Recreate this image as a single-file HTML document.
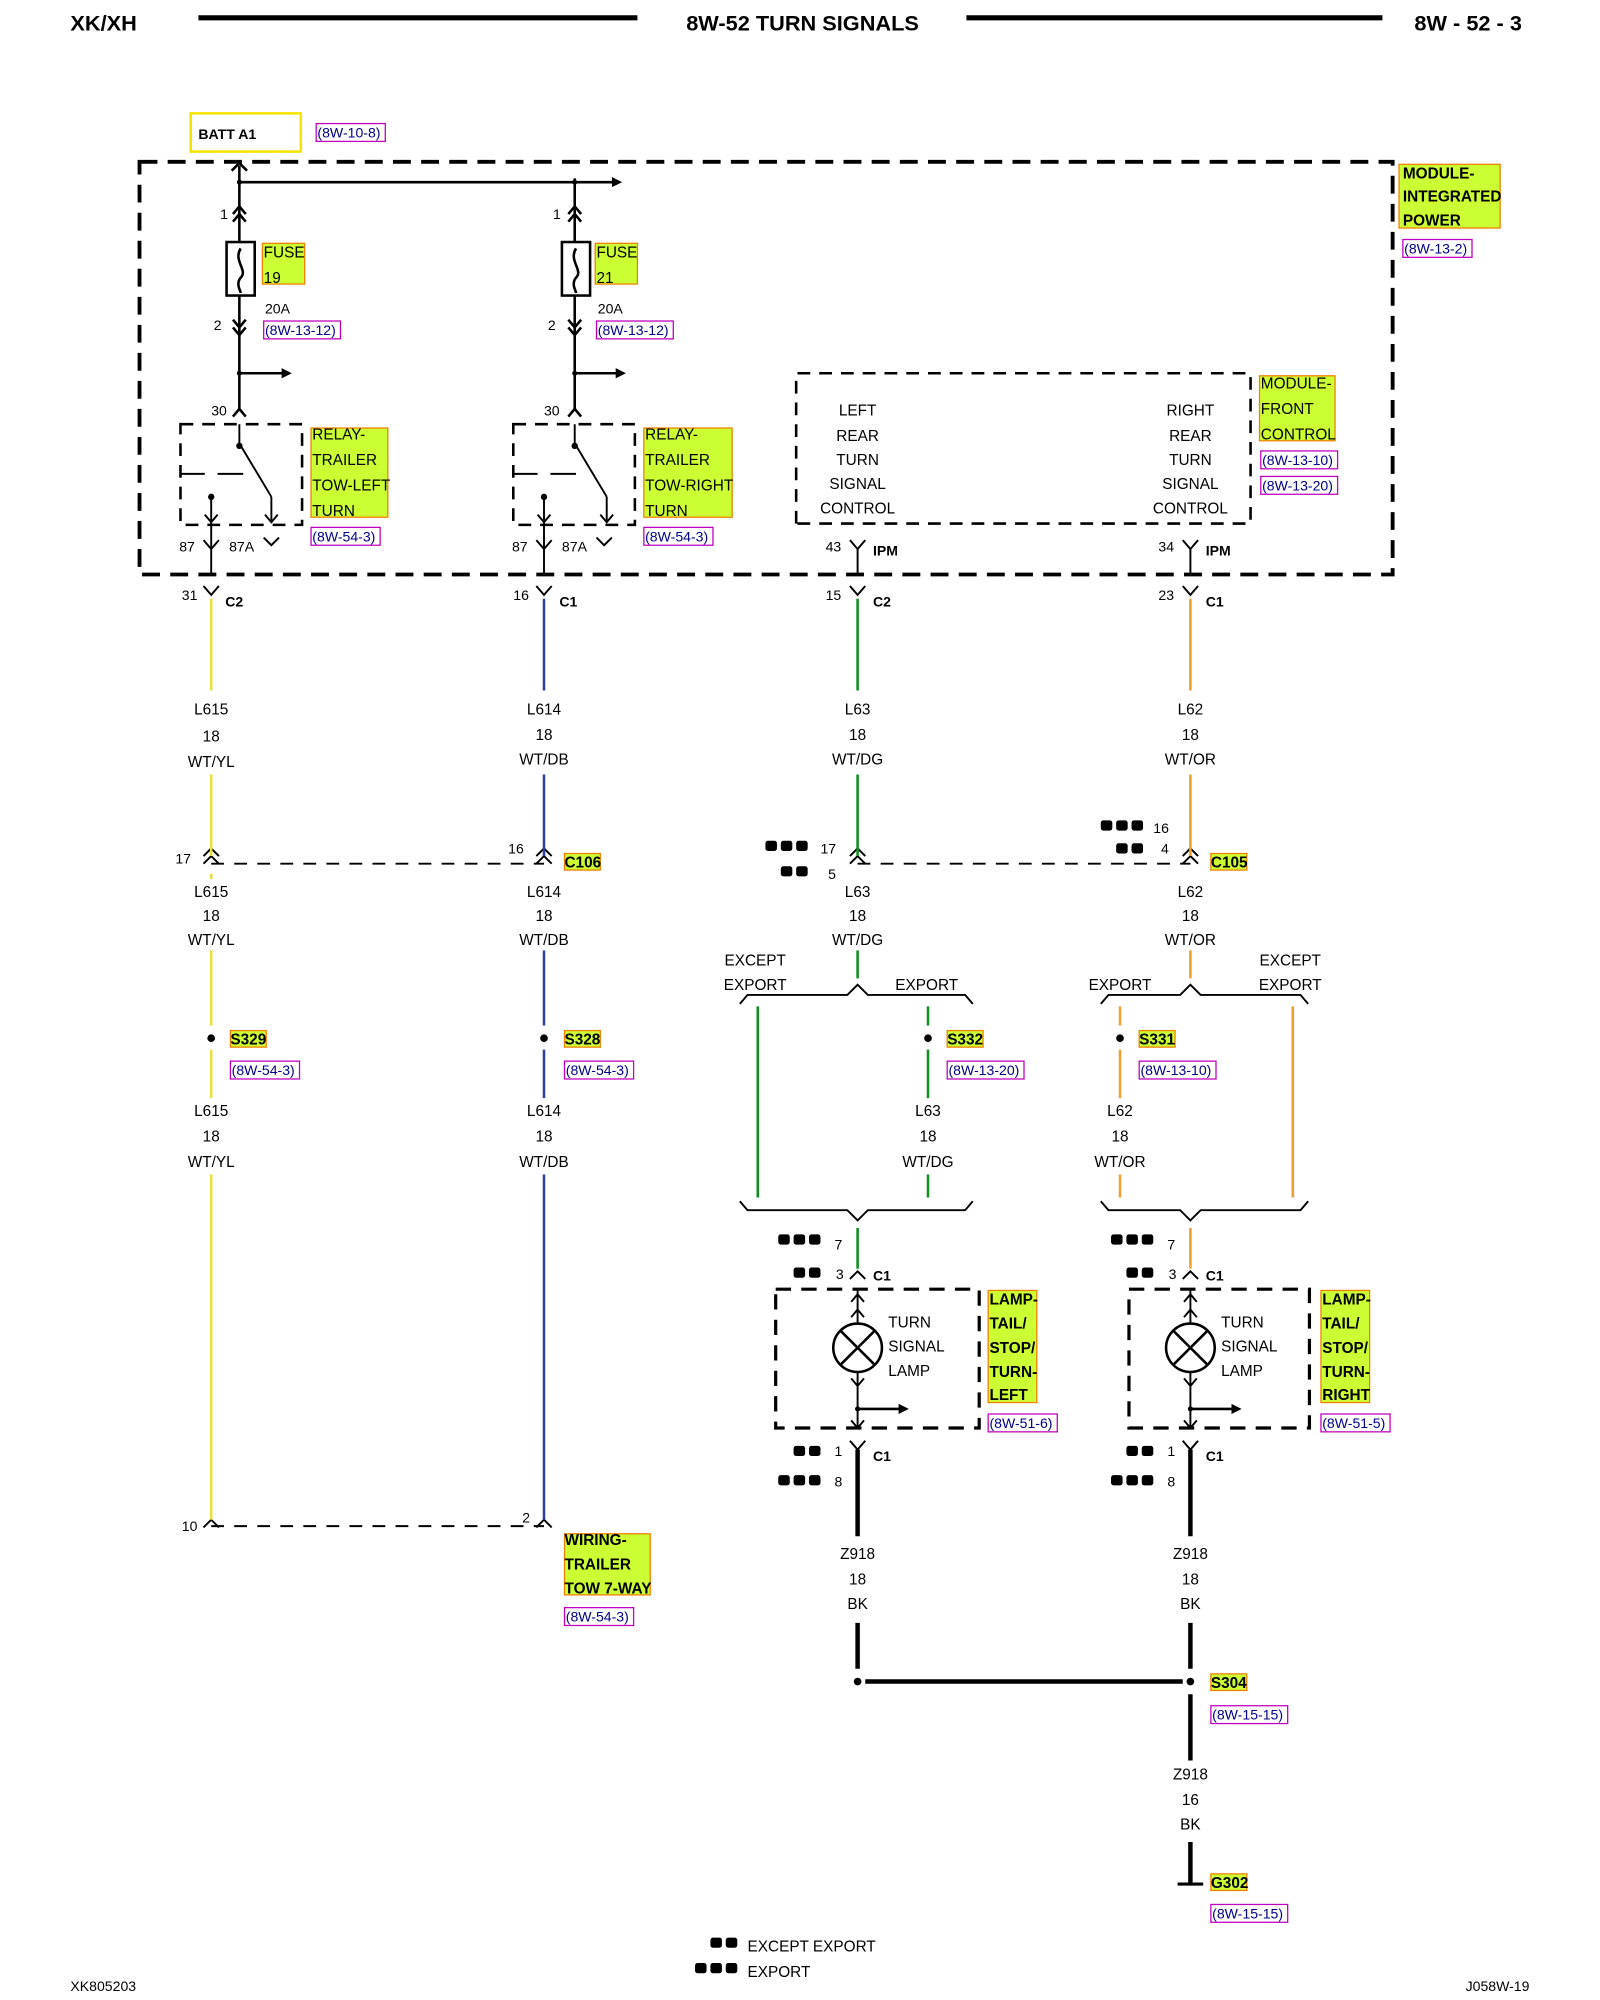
<!DOCTYPE html>
<html><head><meta charset="utf-8"><style>
html,body{margin:0;padding:0;background:#fff;width:1600px;height:2000px;overflow:hidden}
svg{display:block}
text{font-family:"Liberation Sans",sans-serif;font-size:12px;fill:#000}
.b{font-weight:bold}
.r{fill:#00008b;font-size:11px}
.c{text-anchor:middle}
</style></head><body>
<svg width="1600" height="2000" viewBox="0 0 1250 1570" preserveAspectRatio="none" xmlns="http://www.w3.org/2000/svg">
<defs>
<marker id="ah" markerWidth="8" markerHeight="8" refX="6" refY="4" orient="auto" markerUnits="userSpaceOnUse"><path d="M0,0 L8,4 L0,8z" fill="#000"/></marker>
</defs>
<!-- header -->
<text x="55" y="24" class="b" style="font-size:17px">XK/XH</text>
<line x1="155" y1="14" x2="498" y2="14" stroke="#000" stroke-width="4"/>
<text x="627" y="24" class="b c" style="font-size:17px">8W-52 TURN SIGNALS</text>
<line x1="755" y1="14" x2="1080" y2="14" stroke="#000" stroke-width="4"/>
<text x="1105" y="24" class="b" style="font-size:17px">8W - 52 - 3</text>

<!-- BATT -->
<rect x="149" y="89" width="86" height="30" fill="#fff" stroke="#f5e400" stroke-width="2"/>
<text x="155" y="109" class="b" style="font-size:11px">BATT A1</text>
<rect x="247" y="97" width="54" height="14" fill="none" stroke="#c000c0" stroke-width="1"/>
<text x="248" y="108" class="r">(8W-10-8)</text>

<g fill="none" stroke="#000" stroke-width="3" stroke-dasharray="14,8">
<rect x="109" y="127" width="979" height="324"/>
<path d="M622,411 V293 H977 V411 Z" stroke-width="2" stroke-dasharray="10,7"/>
<rect x="141" y="333" width="95" height="79" stroke-width="2" stroke-dasharray="10,7"/>
<rect x="401" y="333" width="95" height="79" stroke-width="2" stroke-dasharray="10,7"/>
<rect x="606" y="1012" width="159" height="109" stroke-width="2.5" stroke-dasharray="12,8"/>
<rect x="882" y="1012" width="141" height="109" stroke-width="2.5" stroke-dasharray="12,8"/>
<path d="M165,678 H425 M670,678 H930 M165,1198 H425" stroke-width="1.5" stroke-dasharray="10,8"/>
</g>

<!-- labels green -->
<g fill="#ccff33" stroke="#f08000" stroke-width="1">
<rect x="1093" y="129" width="79" height="50"/>
<rect x="205" y="191" width="33" height="32"/>
<rect x="465" y="191" width="33" height="32"/>
<rect x="243" y="336" width="60" height="70"/>
<rect x="503" y="336" width="69" height="70"/>
<rect x="984" y="295" width="59" height="51"/>
<rect x="441" y="670" width="28" height="13"/>
<rect x="946" y="670" width="28" height="13"/>
<rect x="180" y="809" width="28" height="13"/>
<rect x="441" y="809" width="28" height="13"/>
<rect x="740" y="809" width="28" height="13"/>
<rect x="890" y="809" width="28" height="13"/>
<rect x="772" y="1013" width="38" height="88"/>
<rect x="1032" y="1013" width="38" height="88"/>
<rect x="441" y="1204" width="67" height="48"/>
<rect x="946" y="1314" width="28" height="13"/>
<rect x="946" y="1471" width="28" height="13"/>
</g>
<g style="font-size:11px">
<text x="1096" y="140" class="b">MODULE-</text><text x="1096" y="158" class="b">INTEGRATED</text><text x="1096" y="177" class="b">POWER</text>
<text x="206" y="202" fill="#666">FUSE</text><text x="206" y="222">19</text>
<text x="466" y="202">FUSE</text><text x="466" y="222">21</text>
<text x="244" y="345">RELAY-</text><text x="244" y="365">TRAILER</text><text x="244" y="385">TOW-LEFT</text><text x="244" y="405">TURN</text>
<text x="504" y="345">RELAY-</text><text x="504" y="365">TRAILER</text><text x="504" y="385">TOW-RIGHT</text><text x="504" y="405">TURN</text>
<text x="985" y="305">MODULE-</text><text x="985" y="325">FRONT</text><text x="985" y="345">CONTROL</text>
<text x="441" y="681" class="b">C106</text><text x="946" y="681" class="b">C105</text>
<text x="180" y="820" class="b">S329</text><text x="441" y="820" class="b">S328</text><text x="740" y="820" class="b">S332</text><text x="890" y="820" class="b">S331</text>
<text x="773" y="1024" class="b">LAMP-</text><text x="773" y="1043" class="b">TAIL/</text><text x="773" y="1062" class="b">STOP/</text><text x="773" y="1081" class="b">TURN-</text><text x="773" y="1099" class="b">LEFT</text>
<text x="1033" y="1024" class="b">LAMP-</text><text x="1033" y="1043" class="b">TAIL/</text><text x="1033" y="1062" class="b">STOP/</text><text x="1033" y="1081" class="b">TURN-</text><text x="1033" y="1099" class="b">RIGHT</text>
<text x="441" y="1213" class="b">WIRING-</text><text x="441" y="1232" class="b">TRAILER</text><text x="441" y="1251" class="b">TOW 7-WAY</text>
<text x="946" y="1325" class="b">S304</text><text x="946" y="1482" class="b">G302</text>
</g>
<!-- refs -->
<g fill="none" stroke="#c000c0" stroke-width="1">
<rect x="1096" y="188" width="54" height="14"/><rect x="206" y="252" width="60" height="14"/><rect x="466" y="252" width="60" height="14"/>
<rect x="243" y="414" width="54" height="14"/><rect x="503" y="414" width="54" height="14"/>
<rect x="985" y="354" width="60" height="14"/><rect x="985" y="374" width="60" height="14"/>
<rect x="180" y="833" width="54" height="14"/><rect x="441" y="833" width="54" height="14"/>
<rect x="740" y="833" width="60" height="14"/><rect x="890" y="833" width="60" height="14"/>
<rect x="772" y="1110" width="54" height="14"/><rect x="1032" y="1110" width="54" height="14"/>
<rect x="441" y="1262" width="54" height="14"/><rect x="946" y="1339" width="60" height="14"/><rect x="946" y="1495" width="60" height="14"/>
</g>
<g class="r">
<text x="1097" y="199" class="r">(8W-13-2)</text><text x="207" y="263" class="r">(8W-13-12)</text><text x="467" y="263" class="r">(8W-13-12)</text>
<text x="244" y="425" class="r">(8W-54-3)</text><text x="504" y="425" class="r">(8W-54-3)</text>
<text x="986" y="365" class="r">(8W-13-10)</text><text x="986" y="385" class="r">(8W-13-20)</text>
<text x="181" y="844" class="r">(8W-54-3)</text><text x="442" y="844" class="r">(8W-54-3)</text>
<text x="741" y="844" class="r">(8W-13-20)</text><text x="891" y="844" class="r">(8W-13-10)</text>
<text x="773" y="1121" class="r">(8W-51-6)</text><text x="1033" y="1121" class="r">(8W-51-5)</text>
<text x="442" y="1273" class="r">(8W-54-3)</text><text x="947" y="1350" class="r">(8W-15-15)</text><text x="947" y="1506" class="r">(8W-15-15)</text>
</g>

<!-- top power wiring -->
<g stroke="#000" stroke-width="2" fill="none">
<path d="M187,130 V190 M187,232 V322"/>
<path d="M449,140 V190 M449,232 V322"/>
<path d="M187,143 H484" marker-end="url(#ah)"/>
<path d="M187,293 H226" marker-end="url(#ah)"/>
<path d="M449,293 H487" marker-end="url(#ah)"/>
<rect x="177" y="190" width="22" height="42"/><rect x="439" y="190" width="22" height="42"/>
<path d="M188,195 C182,205 194,212 188,218 C184,223 188,228 188,230"/>
<path d="M450,195 C444,205 456,212 450,218 C446,223 450,228 450,230"/>
<!-- chevrons -->
<path d="M181,134 L187,128 L193,134"/>
<path d="M182,168 L187,162 L192,168 M182,174 L187,168 L192,174"/>
<path d="M444,168 L449,162 L454,168 M444,174 L449,168 L454,174"/>
<path d="M182,251 L187,257 L192,251 M182,257 L187,263 L192,257"/>
<path d="M444,251 L449,257 L454,251 M444,257 L449,263 L454,257"/>
<path d="M182,327 L187,321 L192,327 M444,327 L449,321 L454,327"/>
<!-- relays -->
<path d="M187,333 V348 L212,390 M141,372 H160 M170,372 H190 M165,390 V451 M212,390 V410 M449,333 V348 L474,390 M401,372 H420 M430,372 H450 M425,390 V451 M474,390 V410" stroke-width="1.5"/>
<path d="M160,404 L165,410 L170,404 M207,404 L212,410 L217,404 M420,404 L425,410 L430,404 M469,404 L474,410 L479,404 M206,422 L212,428 L218,422 M466,422 L472,428 L478,422" stroke-width="1.5"/>
<path d="M159,424 L165,431 L171,424 M419,424 L425,431 L431,424 M664,424 L670,431 L676,424 M924,424 L930,431 L936,424" stroke-width="1.5"/>
<path d="M670,431 V451 M930,431 V451" stroke-width="1.5"/>
<!-- C2/C1 connectors -->
<path d="M159,460 L165,467 L171,460 M419,460 L425,467 L431,460 M664,460 L670,467 L676,460 M924,460 L930,467 L936,460" stroke-width="1.5"/>
<!-- C106/C105 -->
<path d="M159,672 L165,666 L171,672 M159,678 L165,672 L171,678 M419,672 L425,666 L431,672 M419,678 L425,672 L431,678 M664,672 L670,666 L676,672 M664,678 L670,672 L676,678 M924,672 L930,666 L936,672 M924,678 L930,672 L936,678" stroke-width="1.5"/>
<path d="M159,1199 L165,1193 L171,1199 M419,1199 L425,1193 L431,1199" stroke-width="1.5"/>
<!-- braces -->
<path d="M578,788 L584,781 H662 L670,773 L678,781 H754 L760,788 M860,788 L866,781 H922 L930,773 L938,781 H1016 L1022,788" stroke-width="1.5"/>
<path d="M578,943 L584,950 H662 L670,958 L678,950 H754 L760,943 M860,943 L866,950 H922 L930,958 L938,950 H1016 L1022,943" stroke-width="1.5"/>
<path d="M664,1004 L670,998 L676,1004 M924,1004 L930,998 L936,1004" stroke-width="1.5"/>
<!-- lamps -->
<path d="M670,1012 V1039 M665,1022 L670,1016 L675,1022 M665,1034 L670,1028 L675,1034 M670,1077 V1120 M665,1082 L670,1088 L675,1082 M665,1115 L670,1121 L675,1115" stroke-width="1.5"/>
<path d="M930,1012 V1039 M925,1022 L930,1016 L935,1022 M925,1034 L930,1028 L935,1034 M930,1077 V1120 M925,1082 L930,1088 L935,1082 M925,1115 L930,1121 L935,1115" stroke-width="1.5"/>
<circle cx="670" cy="1058" r="19" stroke-width="2"/><path d="M657,1045 L683,1071 M683,1045 L657,1071" stroke-width="2"/>
<circle cx="930" cy="1058" r="19" stroke-width="2"/><path d="M917,1045 L943,1071 M943,1045 L917,1071" stroke-width="2"/>
<path d="M670,1106 H708" marker-end="url(#ah)"/>
<path d="M930,1106 H968" marker-end="url(#ah)"/>
<path d="M664,1131 L670,1138 L676,1131 M924,1131 L930,1138 L936,1131" stroke-width="1.5"/>
<!-- ground wires -->
<path d="M670,1138 V1206 M930,1138 V1206 M670,1274 V1310 M930,1274 V1310 M930,1330 V1382 M930,1446 V1478 M676,1320 H924" stroke-width="3.5"/>
<path d="M920,1479 H940" stroke-width="2.5"/>
</g>
<g fill="#000"><circle cx="187" cy="143" r="2"/><circle cx="449" cy="143" r="2"/><circle cx="187" cy="293" r="2"/><circle cx="449" cy="293" r="2"/>
<circle cx="187" cy="350" r="2.5"/><circle cx="449" cy="350" r="2.5"/><circle cx="165" cy="390" r="2.5"/><circle cx="425" cy="390" r="2.5"/>
<circle cx="165" cy="815" r="3"/><circle cx="425" cy="815" r="3"/><circle cx="725" cy="815" r="3"/><circle cx="875" cy="815" r="3"/>
<circle cx="670" cy="1320" r="3"/><circle cx="930" cy="1320" r="3"/><circle cx="670" cy="1106" r="2"/><circle cx="930" cy="1106" r="2"/></g>

<!-- colored wires -->
<g stroke-width="2" fill="none">
<path d="M165,470 V542 M165,608 V672 M165,686 V690 M165,746 V805 M165,824 V862 M165,922 V1193" stroke="#e8e040"/>
<path d="M425,470 V542 M425,608 V672 M425,746 V805 M425,824 V862 M425,922 V1193" stroke="#3040a0"/>
<path d="M670,470 V542 M670,608 V672 M670,746 V768 M592,790 V940 M725,790 V805 M725,824 V862 M725,922 V940 M670,964 V996" stroke="#109020"/>
<path d="M930,470 V542 M930,608 V672 M930,746 V768 M1010,790 V940 M875,790 V805 M875,824 V862 M875,922 V940 M930,964 V996" stroke="#f0a030"/>
</g>

<!-- text -->
<g>
<text x="172" y="172" style="font-size:11px">1</text><text x="432" y="172" style="font-size:11px">1</text>
<text x="167" y="259" style="font-size:11px">2</text><text x="428" y="259" style="font-size:11px">2</text>
<text x="207" y="246" style="font-size:11px">20A</text><text x="467" y="246" style="font-size:11px">20A</text>
<text x="165" y="326" style="font-size:11px">30</text><text x="425" y="326" style="font-size:11px">30</text>
<text x="140" y="433" style="font-size:11px">87</text><text x="179" y="433" style="font-size:11px">87A</text>
<text x="400" y="433" style="font-size:11px">87</text><text x="439" y="433" style="font-size:11px">87A</text>
<text x="645" y="433" style="font-size:11px">43</text><text x="682" y="436" class="b" style="font-size:11px">IPM</text>
<text x="905" y="433" style="font-size:11px">34</text><text x="942" y="436" class="b" style="font-size:11px">IPM</text>
<text x="142" y="471" style="font-size:11px">31</text><text x="176" y="476" class="b" style="font-size:11px">C2</text>
<text x="401" y="471" style="font-size:11px">16</text><text x="437" y="476" class="b" style="font-size:11px">C1</text>
<text x="645" y="471" style="font-size:11px">15</text><text x="682" y="476" class="b" style="font-size:11px">C2</text>
<text x="905" y="471" style="font-size:11px">23</text><text x="942" y="476" class="b" style="font-size:11px">C1</text>
<g class="c">
<text x="670" y="326">LEFT</text><text x="670" y="346">REAR</text><text x="670" y="365">TURN</text><text x="670" y="384">SIGNAL</text><text x="670" y="403">CONTROL</text>
<text x="930" y="326">RIGHT</text><text x="930" y="346">REAR</text><text x="930" y="365">TURN</text><text x="930" y="384">SIGNAL</text><text x="930" y="403">CONTROL</text>
<text x="165" y="561">L615</text><text x="165" y="582">18</text><text x="165" y="602">WT/YL</text>
<text x="425" y="561">L614</text><text x="425" y="581">18</text><text x="425" y="600">WT/DB</text>
<text x="670" y="561">L63</text><text x="670" y="581">18</text><text x="670" y="600">WT/DG</text>
<text x="930" y="561">L62</text><text x="930" y="581">18</text><text x="930" y="600">WT/OR</text>
<text x="165" y="704">L615</text><text x="165" y="723">18</text><text x="165" y="742">WT/YL</text>
<text x="425" y="704">L614</text><text x="425" y="723">18</text><text x="425" y="742">WT/DB</text>
<text x="670" y="704">L63</text><text x="670" y="723">18</text><text x="670" y="742">WT/DG</text>
<text x="930" y="704">L62</text><text x="930" y="723">18</text><text x="930" y="742">WT/OR</text>
<text x="590" y="758">EXCEPT</text><text x="590" y="777">EXPORT</text><text x="724" y="777">EXPORT</text>
<text x="875" y="777">EXPORT</text><text x="1008" y="758">EXCEPT</text><text x="1008" y="777">EXPORT</text>
<text x="165" y="876">L615</text><text x="165" y="896">18</text><text x="165" y="916">WT/YL</text>
<text x="425" y="876">L614</text><text x="425" y="896">18</text><text x="425" y="916">WT/DB</text>
<text x="725" y="876">L63</text><text x="725" y="896">18</text><text x="725" y="916">WT/DG</text>
<text x="875" y="876">L62</text><text x="875" y="896">18</text><text x="875" y="916">WT/OR</text>
<text x="670" y="1224">Z918</text><text x="670" y="1244">18</text><text x="670" y="1263">BK</text>
<text x="930" y="1224">Z918</text><text x="930" y="1244">18</text><text x="930" y="1263">BK</text>
<text x="930" y="1397">Z918</text><text x="930" y="1417">16</text><text x="930" y="1436">BK</text>
</g>
<text x="694" y="1042">TURN</text><text x="694" y="1061">SIGNAL</text><text x="694" y="1080">LAMP</text>
<text x="954" y="1042">TURN</text><text x="954" y="1061">SIGNAL</text><text x="954" y="1080">LAMP</text>
<text x="137" y="678" style="font-size:11px">17</text><text x="397" y="670" style="font-size:11px">16</text>
<text x="641" y="670" style="font-size:11px">17</text><text x="647" y="690" style="font-size:11px">5</text>
<text x="901" y="654" style="font-size:11px">16</text><text x="907" y="670" style="font-size:11px">4</text>
<text x="652" y="981" style="font-size:11px">7</text><text x="653" y="1004" style="font-size:11px">3</text><text x="682" y="1005" class="b" style="font-size:11px">C1</text>
<text x="912" y="981" style="font-size:11px">7</text><text x="913" y="1004" style="font-size:11px">3</text><text x="942" y="1005" class="b" style="font-size:11px">C1</text>
<text x="652" y="1143" style="font-size:11px">1</text><text x="682" y="1147" class="b" style="font-size:11px">C1</text><text x="652" y="1167" style="font-size:11px">8</text>
<text x="912" y="1143" style="font-size:11px">1</text><text x="942" y="1147" class="b" style="font-size:11px">C1</text><text x="912" y="1167" style="font-size:11px">8</text>
<text x="142" y="1202" style="font-size:11px">10</text><text x="408" y="1195" style="font-size:11px">2</text>
<text x="584" y="1532">EXCEPT EXPORT</text><text x="584" y="1552">EXPORT</text>
<text x="55" y="1563" style="font-size:11px">XK805203</text><text x="1145" y="1563" style="font-size:11px">J058W-19</text>
</g>
<!-- connector count icons -->
<g fill="#000">
<rect x="598" y="660" width="9" height="8" rx="2"/><rect x="610" y="660" width="9" height="8" rx="2"/><rect x="622" y="660" width="9" height="8" rx="2"/>
<rect x="610" y="680" width="9" height="8" rx="2"/><rect x="622" y="680" width="9" height="8" rx="2"/>
<rect x="860" y="644" width="9" height="8" rx="2"/><rect x="872" y="644" width="9" height="8" rx="2"/><rect x="884" y="644" width="9" height="8" rx="2"/>
<rect x="872" y="662" width="9" height="8" rx="2"/><rect x="884" y="662" width="9" height="8" rx="2"/>
<rect x="608" y="969" width="9" height="8" rx="2"/><rect x="620" y="969" width="9" height="8" rx="2"/><rect x="632" y="969" width="9" height="8" rx="2"/>
<rect x="620" y="995" width="9" height="8" rx="2"/><rect x="632" y="995" width="9" height="8" rx="2"/>
<rect x="868" y="969" width="9" height="8" rx="2"/><rect x="880" y="969" width="9" height="8" rx="2"/><rect x="892" y="969" width="9" height="8" rx="2"/>
<rect x="880" y="995" width="9" height="8" rx="2"/><rect x="892" y="995" width="9" height="8" rx="2"/>
<rect x="620" y="1135" width="9" height="8" rx="2"/><rect x="632" y="1135" width="9" height="8" rx="2"/>
<rect x="608" y="1158" width="9" height="8" rx="2"/><rect x="620" y="1158" width="9" height="8" rx="2"/><rect x="632" y="1158" width="9" height="8" rx="2"/>
<rect x="880" y="1135" width="9" height="8" rx="2"/><rect x="892" y="1135" width="9" height="8" rx="2"/>
<rect x="868" y="1158" width="9" height="8" rx="2"/><rect x="880" y="1158" width="9" height="8" rx="2"/><rect x="892" y="1158" width="9" height="8" rx="2"/>
<rect x="555" y="1521" width="9" height="8" rx="2"/><rect x="567" y="1521" width="9" height="8" rx="2"/>
<rect x="543" y="1541" width="9" height="8" rx="2"/><rect x="555" y="1541" width="9" height="8" rx="2"/><rect x="567" y="1541" width="9" height="8" rx="2"/>
</g>
</svg>
</body></html>
